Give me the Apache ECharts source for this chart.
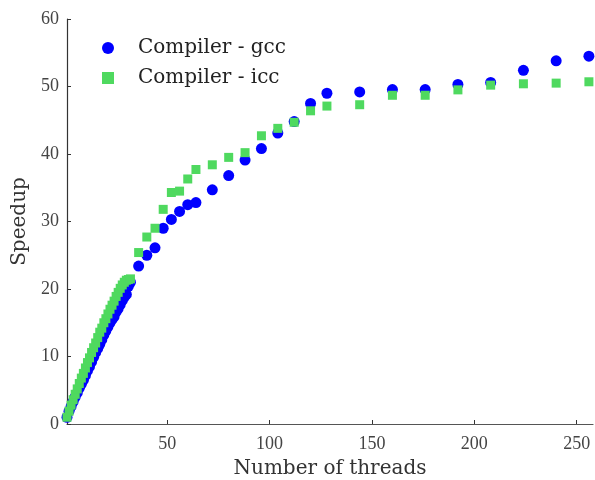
<!DOCTYPE html>
<html>
<head>
<meta charset="utf-8">
<script src="https://cdn.jsdelivr.net/npm/echarts@6/dist/echarts.min.js"></script>
<style>html,body{margin:0;padding:0;background:#fff}#c{width:595px;height:480px}</style>
</head>
<body>
<div id="c"></div>
<script>
var threads = [1,2,3,4,5,6,7,8,9,10,11,12,13,14,15,16,17,18,19,20,21,22,23,24,25,26,27,28,29,30,31,32,
  36,40,44,48,52,56,60,64,72,80,88,96,104,112,120,128,144,160,176,192,208,224,240,256];
var gccSpeedup = [1.0,1.9,2.6,3.3,4.0,4.6,5.3,5.9,6.5,7.2,7.9,8.5,9.2,9.9,10.6,11.2,11.8,12.5,13.2,13.8,14.4,15.0,15.5,15.9,16.6,17.1,17.7,18.3,18.8,19.2,20.4,21.0,
  23.4,25.0,26.1,29.0,30.3,31.5,32.5,32.8,34.7,36.8,39.1,40.8,43.1,44.8,47.5,49.0,49.2,49.55,49.55,50.3,50.6,52.4,53.8,54.5];
var iccSpeedup = [1.0,1.9,2.8,3.6,4.4,5.2,6.0,6.8,7.5,8.3,9.1,9.8,10.6,11.3,12.0,12.8,13.6,14.2,15.0,15.6,16.3,17.0,17.6,18.2,18.9,19.5,20.1,20.6,21.0,21.3,21.4,21.5,
  25.4,27.7,29.0,31.8,34.3,34.5,36.3,37.7,38.4,39.5,40.2,42.7,43.8,44.7,46.4,47.1,47.3,48.7,48.7,49.5,50.2,50.4,50.5,50.7];
var xTicks = [50,100,150,200,250];
var seriesNames = ['Compiler - gcc','Compiler - icc'];

function pairs(xs, ys){ return xs.map(function(x,i){ return [x, ys[i]]; }); }

var textFont = 'DejaVu Serif';
var numFont = 'Liberation Serif';
var chart = echarts.init(document.getElementById('c'), null, {renderer:'canvas'});
chart.setOption({
  animation: false,
  backgroundColor: '#ffffff',
  grid: {left: 67, right: 2, top: 19, bottom: 56, containLabel: false, outerBoundsMode: 'none'},
  legend: {
    left: 97, top: 33, orient: 'vertical', itemGap: 10,
    itemWidth: 12, itemHeight: 12,
    textStyle: {fontFamily: textFont, fontSize: 20, color: '#222', padding: [0,0,0,19]},
    data: [{name: seriesNames[0], icon: 'circle'}, {name: seriesNames[1], icon: 'rect'}]
  },
  xAxis: {
    type: 'value', min: 1, max: 258,
    name: 'Number of threads', nameLocation: 'middle', nameGap: 35,
    nameTextStyle: {fontFamily: textFont, fontSize: 20, color: '#333'},
    axisLine: {show: true, lineStyle: {color: '#555', width: 1.2}},
    axisTick: {show: true, inside: true, length: 4, customValues: xTicks, lineStyle: {color: '#333'}},
    axisLabel: {customValues: xTicks, fontFamily: numFont, fontSize: 18, color: '#444', margin: 11},
    splitLine: {show: false}
  },
  yAxis: {
    type: 'value', min: 0, max: 60, interval: 10,
    name: 'Speedup', nameLocation: 'middle', nameGap: 32, nameRotate: 90,
    nameTextStyle: {fontFamily: textFont, fontSize: 20, color: '#333'},
    axisLine: {show: true, lineStyle: {color: '#333', width: 1.2}},
    axisTick: {show: true, inside: true, length: 4, lineStyle: {color: '#333'}},
    axisLabel: {fontFamily: numFont, fontSize: 18, color: '#444', margin: 8},
    splitLine: {show: false}
  },
  series: [
    {name: seriesNames[0], type: 'scatter', symbol: 'circle', symbolSize: 11,
     itemStyle: {color: '#0000ff', opacity: 1}, data: pairs(threads, gccSpeedup)},
    {name: seriesNames[1], type: 'scatter', symbol: 'rect', symbolSize: 9,
     itemStyle: {color: '#4fd95f', opacity: 1}, data: pairs(threads, iccSpeedup)}
  ]
});
</script>
</body>
</html>
